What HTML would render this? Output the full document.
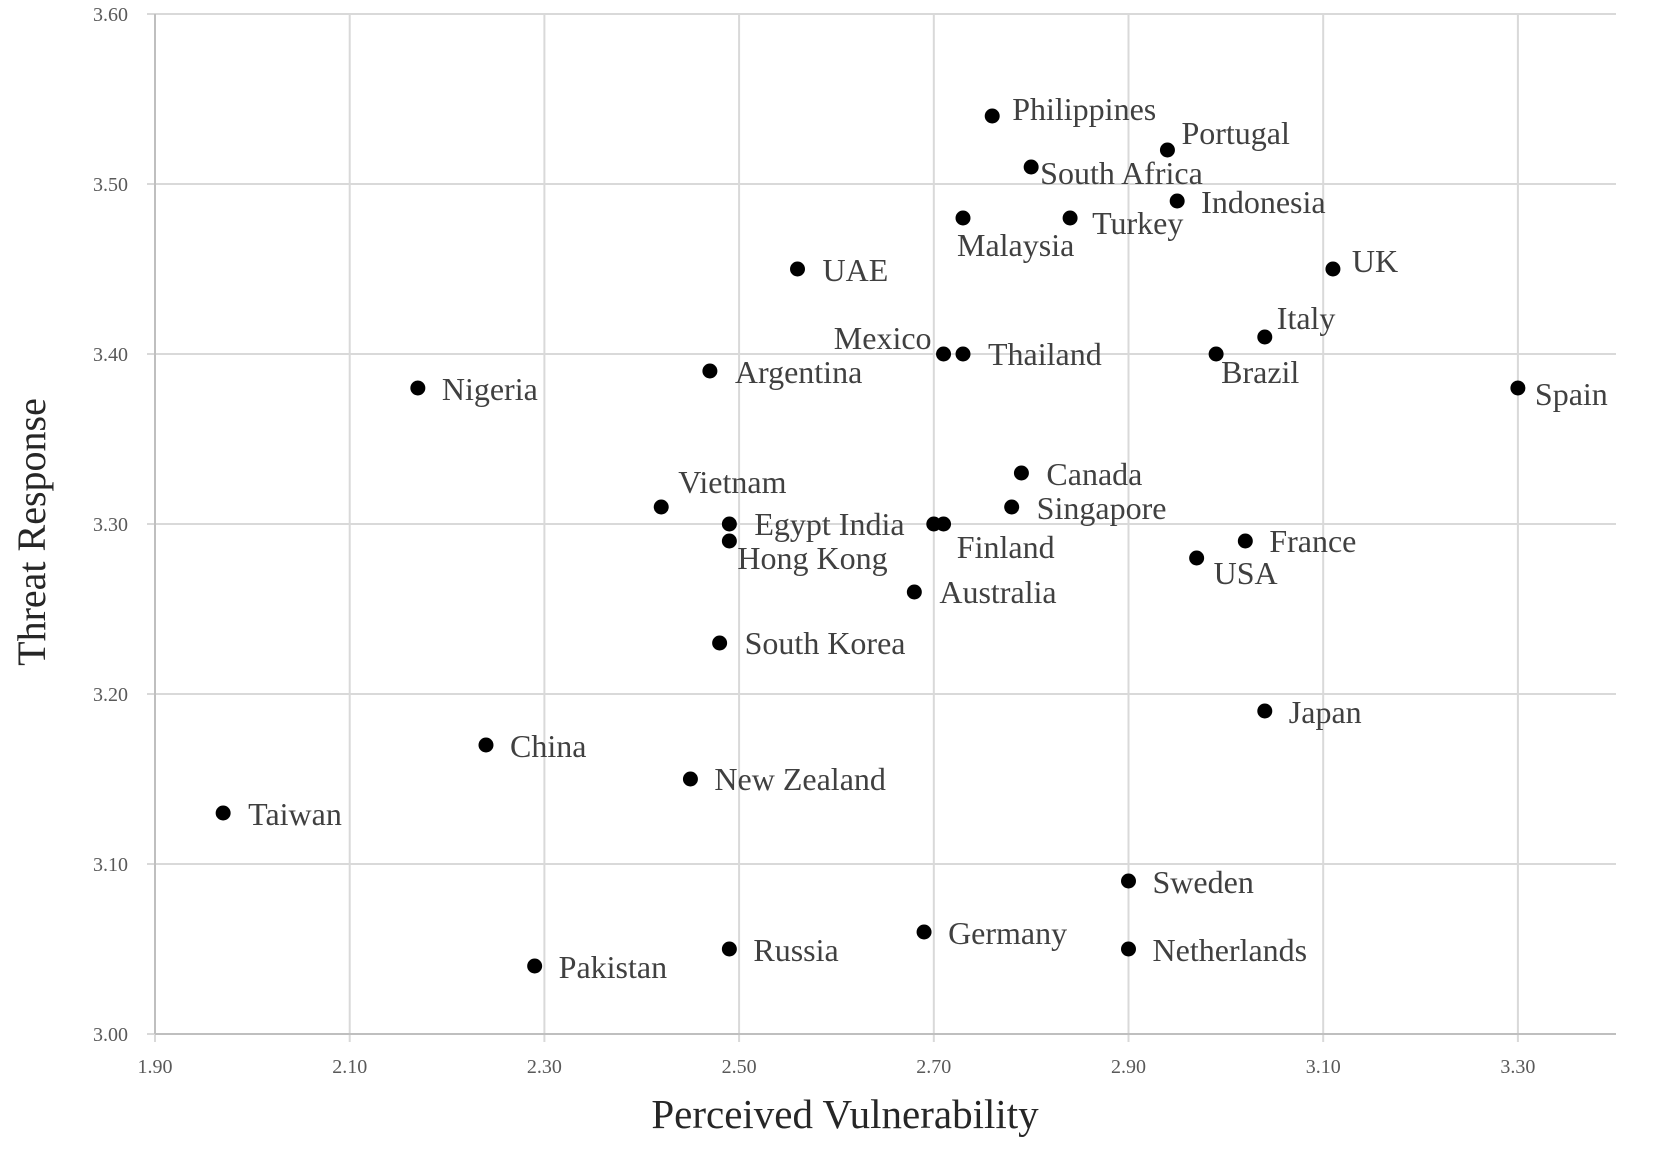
<!DOCTYPE html>
<html><head><meta charset="utf-8"><style>
html,body{margin:0;padding:0;background:#fff;}
svg{display:block;font-family:"Liberation Serif",serif;}
</style></head><body>
<svg id="chart" width="1656" height="1149"></svg>
<script>
const countries=["Philippines","Portugal","South Africa","Indonesia","Malaysia","Turkey","UAE","UK","Italy","Mexico","Thailand","Brazil","Argentina","Nigeria","Spain","Canada","Vietnam","Singapore","Egypt India","India","Finland","Hong Kong","France","USA","Australia","South Korea","Japan","China","New Zealand","Taiwan","Sweden","Germany","Russia","Netherlands","Pakistan"];
const vulnerability=[2.76,2.94,2.80,2.95,2.73,2.84,2.56,3.11,3.04,2.71,2.73,2.99,2.47,2.17,3.30,2.79,2.42,2.78,2.49,2.71,2.70,2.49,3.02,2.97,2.68,2.48,3.04,2.24,2.45,1.97,2.90,2.69,2.49,2.90,2.29];
const threat=[3.54,3.52,3.51,3.49,3.48,3.48,3.45,3.45,3.41,3.40,3.40,3.40,3.39,3.38,3.38,3.33,3.31,3.31,3.30,3.30,3.30,3.29,3.29,3.28,3.26,3.23,3.19,3.17,3.15,3.13,3.09,3.06,3.05,3.05,3.04];
const xTicks=["1.90","2.10","2.30","2.50","2.70","2.90","3.10","3.30"];
const yTicks=["3.00","3.10","3.20","3.30","3.40","3.50","3.60"];
// label offsets (layout only)
const lblOff=[[20,-6],[14,-16],[9,7],[24,2],[-6,28],[22,6],[25,2],[19,-7],[12,-18],[-12,-15],[25,1],[5,19],[25,2],[24,2],[17,7],[25,2],[17,-24],[25,2],[25,1],null,[23,24],[8,18],[24,1],[17,16],[25,1],[25,1],[24,2],[24,2],[24,1],[25,2],[24,2],[24,2],[24,2],[24,2],[24,2]];
const svg=document.getElementById('chart');
const NS='http://www.w3.org/2000/svg';
const X0=155,X1=1616,Y0=1034,Y1=14;
const xs=v=>X0+(v-1.9)/0.2*194.7;
const ys=v=>Y0-(v-3.0)/0.6*(Y0-Y1);
function mk(t,a,p){const e=document.createElementNS(NS,t);for(const k in a)e.setAttribute(k,a[k]);(p||svg).appendChild(e);return e;}
xTicks.forEach(t=>{const x=xs(+t);
 const g=mk('line',{x1:x,x2:x,y1:Y1,y2:Y0+8,stroke:'#d9d9d9','stroke-width':2});
 
 
 const l=mk('text',{x:x,y:Y0+39,'text-anchor':'middle','font-size':20,fill:'#595959'});l.textContent=t;
 
 });
yTicks.forEach(t=>{const y=ys(+t);
 const g=mk('line',{x1:X0-8,x2:X1,y1:y,y2:y,stroke:'#d9d9d9','stroke-width':2});
 
 
 const l=mk('text',{x:X0-27,y:y+7,'text-anchor':'end','font-size':20,fill:'#595959'});l.textContent=t;
 
 });
const ax=mk('line',{x1:X0,x2:X0,y1:Y1,y2:Y0,stroke:'#bfbfbf','stroke-width':2});


const bx=mk('line',{x1:X0,x2:X1,y1:Y0,y2:Y0,stroke:'#bfbfbf','stroke-width':2});


countries.forEach((c,i)=>{const x=xs(vulnerability[i]),y=ys(threat[i]);
 const d=mk('circle',{cx:x,cy:y,r:7.5,fill:'#000'});
 
 
 const o=lblOff[i];if(!o)return;
 const anchor=(c==='Mexico')?'end':'start';
 const l=mk('text',{x:x+o[0],y:y+o[1]+10,'font-size':32,fill:'#404040','text-anchor':anchor});
 l.textContent=c;
 
 });
const xt=mk('text',{x:845,y:1128,'text-anchor':'middle','font-size':41,fill:'#262626'});xt.textContent='Perceived Vulnerability';


const yt=mk('text',{x:0,y:0,'text-anchor':'middle','font-size':40,fill:'#262626',transform:'translate(45,532) rotate(-90)'});yt.textContent='Threat Response';


</script>
</body></html>
